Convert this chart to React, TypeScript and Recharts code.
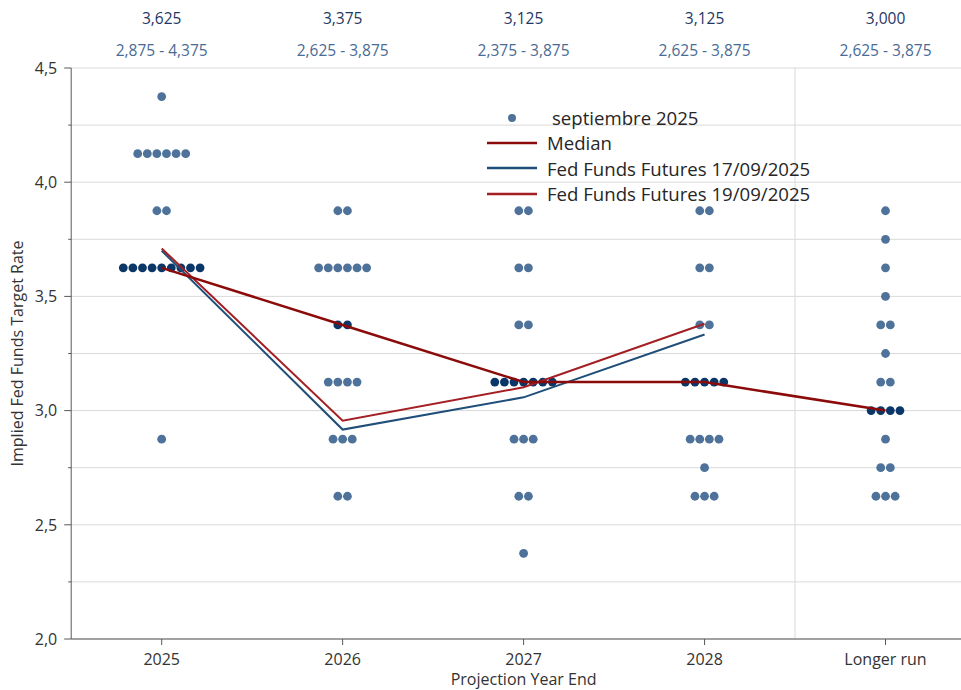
import React from "react";
import {
  ComposedChart,
  Scatter,
  XAxis,
  YAxis,
  CartesianGrid,
  ReferenceLine,
  Legend,
} from "recharts";

const categories = ["2025", "2026", "2027", "2028", "Longer run"];
const medians = [3.625, 3.375, 3.125, 3.125, 3.0];
const rangeLow = [2.875, 2.625, 2.375, 2.625, 2.625];
const rangeHigh = [4.375, 3.875, 3.875, 3.875, 3.875];

// [rate, number of participants]
const dots2025 = [[4.375, 1], [4.125, 6], [3.875, 2], [3.625, 9], [2.875, 1]];
const dots2026 = [[3.875, 2], [3.625, 6], [3.375, 2], [3.125, 4], [2.875, 3], [2.625, 2]];
const dots2027 = [[3.875, 2], [3.625, 2], [3.375, 2], [3.125, 7], [2.875, 3], [2.625, 2], [2.375, 1]];
const dots2028 = [[3.875, 2], [3.625, 2], [3.375, 2], [3.125, 5], [2.875, 4], [2.75, 1], [2.625, 3]];
const dotsLonger = [
  [3.875, 1], [3.75, 1], [3.625, 1], [3.5, 1], [3.375, 2], [3.25, 1],
  [3.125, 2], [3.0, 4], [2.875, 1], [2.75, 2], [2.625, 3],
];

const futures17 = [3.7, 2.917, 3.058, 3.333];
const futures19 = [3.71, 2.956, 3.102, 3.38];

const yTicks = [2, 2.25, 2.5, 2.75, 3, 3.25, 3.5, 3.75, 4, 4.25, 4.5];

const FONT = "'Open Sans', 'Noto Sans', sans-serif";
const LIGHT_DOT = "#4E7299";
const DARK_DOT = "#0B3768";
const MEDIAN_RED = "#8B0A0A";
const FUT19_RED = "#A31F24";
const FUT17_BLUE = "#1F4E79";
const DOT_GAP = 9.6;

const fmt = (v: number, d: number) => v.toFixed(d).replace(".", ",");

const dotPoints = [dots2025, dots2026, dots2027, dots2028, dotsLonger].flatMap(
  (rows, ci) =>
    rows.flatMap(([rate, n]) =>
      Array.from({ length: n }, (_, k) => ({
        x: ci,
        y: rate,
        k,
        n,
        dark: rate === medians[ci],
      }))
    )
);

const medianPts = medians.map((y, x) => ({ x, y }));
const fut17Pts = futures17.map((y, x) => ({ x, y }));
const fut19Pts = futures19.map((y, x) => ({ x, y }));

const DotShape = (props: any) => {
  const { cx, cy, payload } = props;
  if (cx == null || cy == null) return null;
  const off = (payload.k - (payload.n - 1) / 2) * DOT_GAP;
  return (
    <circle
      cx={cx + off}
      cy={cy}
      r={4.4}
      fill={payload.dark ? DARK_DOT : LIGHT_DOT}
    />
  );
};

const NoShape = () => <g />;

const YTick = (props: any) => {
  const { x, y, payload } = props;
  const axisX = x + 14;
  const major = Math.abs(payload.value * 2 - Math.round(payload.value * 2)) < 1e-6;
  return (
    <g>
      <line x1={axisX - (major ? 7 : 3)} x2={axisX} y1={y} y2={y} stroke="#595959" />
      {major && (
        <text x={x} y={y} dy="0.36em" textAnchor="end" fontSize={16} fill="#333" fontFamily={FONT}>
          {fmt(payload.value, 1)}
        </text>
      )}
    </g>
  );
};

const XTick = (props: any) => {
  const { x, y, payload } = props;
  return (
    <text x={x} y={y} dy={20} textAnchor="middle" fontSize={16} fill="#333" fontFamily={FONT}>
      {categories[payload.value]}
    </text>
  );
};

const TopTick = (props: any) => {
  const { x, payload } = props;
  const i = payload.value;
  return (
    <g fontFamily={FONT} fontSize={15.5} textAnchor="middle">
      <text x={x} y={24} fill="#1F3864">
        {fmt(medians[i], 3)}
      </text>
      <text x={x} y={56} fill="#4A6B94">
        {fmt(rangeLow[i], 3)} - {fmt(rangeHigh[i], 3)}
      </text>
    </g>
  );
};

const legendItems = [
  { label: "septiembre 2025", kind: "dot", color: LIGHT_DOT },
  { label: "Median", kind: "line", color: MEDIAN_RED },
  { label: "Fed Funds Futures 17/09/2025", kind: "line", color: FUT17_BLUE },
  { label: "Fed Funds Futures 19/09/2025", kind: "line", color: FUT19_RED },
];

const LegendContent = () => (
  <div style={{ fontFamily: FONT, fontSize: 18.6, color: "#262626" }}>
    {legendItems.map((it) => (
      <div key={it.label} style={{ display: "flex", alignItems: "center", height: 25.3 }}>
        <svg width={60} height={12}>
          {it.kind === "dot" ? (
            <circle cx={25} cy={6} r={4} fill={it.color} />
          ) : (
            <line x1={0} x2={50} y1={6} y2={6} stroke={it.color} strokeWidth={2.5} />
          )}
        </svg>
        <span style={{ marginLeft: it.kind === "dot" ? 5 : 0, whiteSpace: "nowrap" }}>{it.label}</span>
      </div>
    ))}
  </div>
);

const YLabel = (props: any) => {
  const { viewBox } = props;
  const cy = viewBox.y + viewBox.height / 2;
  return (
    <text
      x={17}
      y={cy}
      transform={`rotate(-90, 17, ${cy})`}
      textAnchor="middle"
      dominantBaseline="central"
      fontSize={16}
      fill="#333"
      fontFamily={FONT}
    >
      Implied Fed Funds Target Rate
    </text>
  );
};

const XLabel = (props: any) => {
  const { viewBox } = props;
  return (
    <text
      x={viewBox.x + viewBox.width / 2}
      y={685}
      textAnchor="middle"
      fontSize={16}
      fill="#333"
      fontFamily={FONT}
    >
      Projection Year End
    </text>
  );
};

export default function App() {
  return (
    <div
      style={{
        position: "absolute",
        left: 0,
        top: 0,
        width: 961,
        height: 690,
        overflow: "hidden",
        background: "#fff",
      }}
    >
      <ComposedChart
        width={990}
        height={690}
        margin={{ top: 0, right: 14, bottom: 0, left: 0 }}
      >
        <CartesianGrid vertical={false} stroke="#d9d9d9" />
        <XAxis
          xAxisId="top"
          orientation="top"
          type="number"
          dataKey="x"
          domain={[-0.5, 4.5]}
          ticks={[0, 1, 2, 3, 4]}
          height={68}
          axisLine={false}
          tickLine={false}
          tickSize={0}
          tickMargin={0}
          tick={<TopTick />}
        />
        <XAxis
          type="number"
          dataKey="x"
          domain={[-0.5, 4.5]}
          ticks={[0, 1, 2, 3, 4]}
          height={51}
          stroke="#595959"
          tickSize={6}
          tickMargin={0}
          tick={<XTick />}
          label={<XLabel />}
        />
        <YAxis
          type="number"
          dataKey="y"
          domain={[2, 4.5]}
          ticks={yTicks}
          width={71.2}
          stroke="#595959"
          tickLine={false}
          tickSize={7}
          tickMargin={7}
          tick={<YTick />}
          interval={0}
          label={<YLabel />}
        />
        <ReferenceLine x={3.5} stroke="#d9d9d9" />
        <Scatter
          xAxisId="top"
          data={medianPts}
          shape={<NoShape />}
          legendType="none"
          isAnimationActive={false}
        />
        <Scatter
          name="septiembre 2025"
          data={dotPoints}
          shape={<DotShape />}
          isAnimationActive={false}
        />
        <Scatter
          name="Fed Funds Futures 17/09/2025"
          data={fut17Pts}
          line={{ stroke: FUT17_BLUE, strokeWidth: 2 }}
          shape={<NoShape />}
          isAnimationActive={false}
        />
        <Scatter
          name="Fed Funds Futures 19/09/2025"
          data={fut19Pts}
          line={{ stroke: FUT19_RED, strokeWidth: 2 }}
          shape={<NoShape />}
          isAnimationActive={false}
        />
        <Scatter
          name="Median"
          data={medianPts}
          line={{ stroke: MEDIAN_RED, strokeWidth: 2.5 }}
          shape={<NoShape />}
          isAnimationActive={false}
        />
        <Legend
          layout="vertical"
          align="center"
          verticalAlign="middle"
          content={<LegendContent />}
          wrapperStyle={{ left: 487, top: 105, width: 380, height: 102 }}
        />
      </ComposedChart>
    </div>
  );
}
